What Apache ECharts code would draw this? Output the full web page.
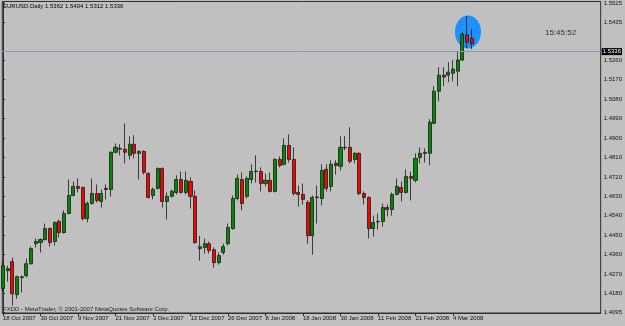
<!DOCTYPE html>
<html><head><meta charset="utf-8">
<script src="https://cdn.jsdelivr.net/npm/echarts@6/dist/echarts.min.js"></script>
<style>html,body{margin:0;padding:0;background:#c0c0c0}#c{width:625px;height:326px}</style>
</head><body><div id="c"></div>
<script>
const symbolName = 'EURUSD.Daily';
const dates = [
'18 Oct 2007','19 Oct 2007','22 Oct 2007','23 Oct 2007','24 Oct 2007','25 Oct 2007','26 Oct 2007','29 Oct 2007','30 Oct 2007','31 Oct 2007',
'1 Nov 2007','2 Nov 2007','5 Nov 2007','6 Nov 2007','7 Nov 2007','8 Nov 2007','9 Nov 2007','12 Nov 2007','13 Nov 2007','14 Nov 2007',
'15 Nov 2007','16 Nov 2007','19 Nov 2007','20 Nov 2007','21 Nov 2007','22 Nov 2007','23 Nov 2007','26 Nov 2007','27 Nov 2007','28 Nov 2007',
'29 Nov 2007','30 Nov 2007','3 Dec 2007','4 Dec 2007','5 Dec 2007','6 Dec 2007','7 Dec 2007','10 Dec 2007','11 Dec 2007','12 Dec 2007',
'13 Dec 2007','14 Dec 2007','17 Dec 2007','18 Dec 2007','19 Dec 2007','20 Dec 2007','21 Dec 2007','24 Dec 2007','26 Dec 2007','27 Dec 2007',
'28 Dec 2007','31 Dec 2007','2 Jan 2008','3 Jan 2008','4 Jan 2008','7 Jan 2008','8 Jan 2008','9 Jan 2008','10 Jan 2008','11 Jan 2008',
'14 Jan 2008','15 Jan 2008','16 Jan 2008','17 Jan 2008','18 Jan 2008','21 Jan 2008','22 Jan 2008','23 Jan 2008','24 Jan 2008','25 Jan 2008',
'28 Jan 2008','29 Jan 2008','30 Jan 2008','31 Jan 2008','1 Feb 2008','4 Feb 2008','5 Feb 2008','6 Feb 2008','7 Feb 2008','8 Feb 2008',
'11 Feb 2008','12 Feb 2008','13 Feb 2008','14 Feb 2008','15 Feb 2008','18 Feb 2008','19 Feb 2008','20 Feb 2008','21 Feb 2008','22 Feb 2008',
'25 Feb 2008','26 Feb 2008','27 Feb 2008','28 Feb 2008','29 Feb 2008','3 Mar 2008','4 Mar 2008','5 Mar 2008','6 Mar 2008','7 Mar 2008',
'10 Mar 2008'];
const open = [
1.4203,1.4286,1.4328,1.4175,1.4258,1.4263,1.4318,1.4411,1.4416,1.4430,
1.4481,1.4421,1.4514,1.4462,1.4551,1.4634,1.4676,1.4671,1.4527,1.4597,
1.4643,1.4606,1.4667,1.4662,1.4834,1.4852,1.4848,1.4820,1.4871,1.4829,
1.4838,1.4736,1.4634,1.4667,1.4759,1.4606,1.4630,1.4648,1.4708,1.4648,
1.4699,1.4630,1.4388,1.4393,1.4411,1.4383,1.4323,1.4370,1.4411,1.4481,
1.4620,1.4708,1.4630,1.4708,1.4745,1.4745,1.4690,1.4704,1.4653,1.4801,
1.4778,1.4866,1.4801,1.4648,1.4639,1.4602,1.4448,1.4625,1.4620,1.4755,
1.4676,1.4783,1.4769,1.4857,1.4857,1.4801,1.4829,1.4643,1.4625,1.4481,
1.4514,1.4514,1.4578,1.4569,1.4639,1.4671,1.4648,1.4722,1.4704,1.4810,
1.4834,1.4829,1.4968,1.5117,1.5191,1.5191,1.5200,1.5209,1.5261,1.5377,
1.5362];
const close = [
1.4309,1.4295,1.4179,1.4258,1.4254,1.4318,1.4388,1.4421,1.4430,1.4481,
1.4416,1.4509,1.4462,1.4551,1.4634,1.4676,1.4667,1.4527,1.4597,1.4643,
1.4611,1.4643,1.4662,1.4834,1.4857,1.4848,1.4834,1.4871,1.4829,1.4838,
1.4741,1.4625,1.4662,1.4759,1.4606,1.4630,1.4653,1.4708,1.4648,1.4704,
1.4630,1.4416,1.4397,1.4411,1.4379,1.4323,1.4356,1.4397,1.4486,1.4620,
1.4713,1.4597,1.4713,1.4745,1.4747,1.4690,1.4704,1.4653,1.4801,1.4773,
1.4866,1.4801,1.4643,1.4639,1.4616,1.4448,1.4625,1.4627,1.4750,1.4667,
1.4778,1.4773,1.4857,1.4855,1.4792,1.4829,1.4643,1.4625,1.4481,1.4509,
1.4512,1.4578,1.4569,1.4639,1.4676,1.4648,1.4722,1.4713,1.4806,1.4829,
1.4829,1.4973,1.5117,1.5191,1.5182,1.5205,1.5219,1.5261,1.5381,1.5344,
1.5336];
const low = [
1.4189,1.4235,1.4124,1.4156,1.4184,1.4254,1.4314,1.4393,1.4370,1.4425,
1.4397,1.4402,1.4439,1.4458,1.4546,1.4630,1.4648,1.4518,1.4509,1.4592,
1.4602,1.4578,1.4616,1.4630,1.4829,1.4820,1.4783,1.4801,1.4806,1.4708,
1.4731,1.4620,1.4616,1.4662,1.4578,1.4523,1.4625,1.4639,1.4643,1.4639,
1.4574,1.4411,1.4332,1.4365,1.4365,1.4300,1.4314,1.4360,1.4402,1.4476,
1.4611,1.4565,1.4620,1.4690,1.4694,1.4653,1.4676,1.4648,1.4648,1.4764,
1.4773,1.4787,1.4634,1.4583,1.4592,1.4411,1.4360,1.4504,1.4588,1.4653,
1.4653,1.4731,1.4750,1.4843,1.4783,1.4783,1.4634,1.4592,1.4435,1.4444,
1.4476,1.4490,1.4537,1.4541,1.4634,1.4606,1.4643,1.4611,1.4694,1.4783,
1.4787,1.4773,1.4964,1.5070,1.5140,1.5158,1.5163,1.5140,1.5256,1.5316,
1.5312];
const high = [
1.4328,1.4309,1.4346,1.4263,1.4263,1.4342,1.4397,1.4435,1.4435,1.4504,
1.4486,1.4514,1.4523,1.4565,1.4708,1.4699,1.4713,1.4676,1.4606,1.4713,
1.4685,1.4662,1.4685,1.4838,1.4875,1.4871,1.4968,1.4908,1.4913,1.4843,
1.4843,1.4741,1.4671,1.4764,1.4764,1.4648,1.4662,1.4727,1.4745,1.4745,
1.4718,1.4657,1.4448,1.4435,1.4421,1.4393,1.4370,1.4411,1.4504,1.4634,
1.4731,1.4741,1.4722,1.4778,1.4820,1.4764,1.4736,1.4741,1.4806,1.4815,
1.4899,1.4917,1.4857,1.4680,1.4690,1.4611,1.4634,1.4680,1.4778,1.4778,
1.4797,1.4797,1.4908,1.4908,1.4950,1.4834,1.4834,1.4653,1.4630,1.4541,
1.4551,1.4597,1.4592,1.4648,1.4713,1.4699,1.4755,1.4745,1.4829,1.4857,
1.4852,1.4987,1.5140,1.5228,1.5228,1.5251,1.5261,1.5298,1.5390,1.5465,
1.5404];
const xTickIndex = [0,8,16,24,32,40,48,56,64,72,80,88,96];
const yTickValues = [1.5525,1.5435,1.5260,1.5170,1.5080,1.4990,1.4900,1.4810,1.4720,1.4630,1.4540,1.4450,1.4360,1.4270,1.4180,1.4095];
const lastPrice = 1.5336;
const clockText = '15:45:52';
const copyrightText = 'FXDD - MetaTrader, \u00a9 2001-2007 MetaQuotes Software Corp.';
const highlightPoint = [99.2, 1.5391];

const last = open.length - 1;
const titleText = symbolName + ' ' + open[last].toFixed(4) + ' ' + high[last].toFixed(4) + ' ' + low[last].toFixed(4) + ' ' + close[last].toFixed(4);
const candles = open.map((o, i) => [i, o, close[i], low[i], high[i]]);
const FONT = 'Liberation Sans';
const AX = '#303030';

const chart = echarts.init(document.getElementById('c'), null, {renderer: 'canvas'});
chart.setOption({
  animation: false,
  backgroundColor: '#c0c0c0',
  title: {text: titleText, left: 3, top: 3, padding: 0,
    textStyle: {fontSize: 6, fontWeight: 'normal', color: '#000', fontFamily: FONT}},
  grid: {left: 1, top: 1, right: 24, bottom: 13, show: true, borderColor: AX, borderWidth: 1, backgroundColor: 'transparent'},
  xAxis: {
    type: 'value', min: -0.15, max: 127.5, position: 'bottom',
    axisLine: {show: true, lineStyle: {color: AX, width: 1}},
    axisTick: {show: true, customValues: xTickIndex, length: 3, lineStyle: {color: AX}},
    axisLabel: {customValues: xTickIndex, formatter: v => dates[Math.round(v)] || '',
      align: 'left', fontSize: 6, color: '#111', margin: 2, fontFamily: FONT},
    splitLine: {show: false}
  },
  yAxis: {
    type: 'value', position: 'right', min: 1.4090, max: 1.5532, scale: true,
    axisLine: {show: true, lineStyle: {color: AX, width: 1}},
    axisTick: {show: true, inside: false, customValues: yTickValues, length: 2, lineStyle: {color: AX}},
    axisLabel: {customValues: yTickValues, formatter: v => Number(v).toFixed(4),
      fontSize: 6, color: '#111', margin: 3, fontFamily: FONT},
    splitLine: {show: false}
  },
  series: [
    {
      type: 'scatter', z: 1, silent: true,
      data: [highlightPoint], symbol: 'circle', symbolSize: [26, 33],
      itemStyle: {color: '#1e90ff', opacity: 1}
    },
    {
      type: 'candlestick', z: 2, clip: false, barWidth: 3.6,
      encode: {x: 0, y: [1, 2, 3, 4]},
      data: candles,
      itemStyle: {color: '#008a00', color0: '#ff0000', borderColor: '#1a1a1a', borderColor0: '#1a1a1a', borderWidth: 0.8},
      markLine: {
        silent: true, symbol: ['none', 'none'], animation: false,
        data: [{yAxis: lastPrice}],
        lineStyle: {color: '#8a98bc', width: 1, type: 'solid'},
        label: {show: true, position: 'end', formatter: lastPrice.toFixed(4), backgroundColor: '#000',
          color: '#fff', fontSize: 6, padding: [1, 1, 0, 1], distance: 1, fontFamily: FONT}
      }
    }
  ],
  graphic: [
    {type: 'text', left: 545, top: 29, silent: true,
      style: {text: clockText, fontSize: 8, fill: '#303030', fontFamily: FONT}},
    {type: 'text', left: 3, top: 306, silent: true,
      style: {text: copyrightText, fontSize: 6, fill: '#202020', fontFamily: FONT}}
  ]
});
</script></body></html>
